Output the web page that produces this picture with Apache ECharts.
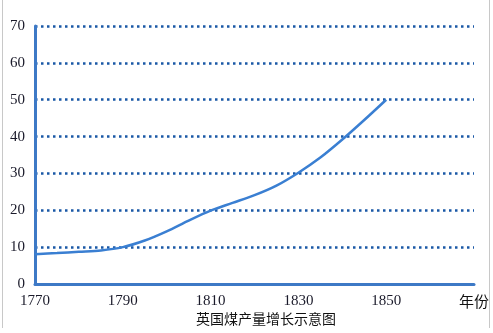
<!DOCTYPE html>
<html><head><meta charset="utf-8">
<script src="https://cdn.jsdelivr.net/npm/echarts@6/dist/echarts.min.js"></script>
<style>html,body{margin:0;padding:0;background:#fff}#c{width:493px;height:333px}</style>
</head><body><div id="c"></div>
<script>
const years = [1770, 1775, 1780, 1785, 1790, 1795, 1800, 1805, 1810, 1815, 1820, 1825, 1830, 1835, 1840, 1845, 1850];
const output = [8.1, 8.4, 8.75, 9.1, 10.0, 11.8, 14.3, 17.2, 19.9, 22.0, 24.1, 26.7, 30.2, 34.3, 39.2, 44.5, 50];
const xTicks = [1770, 1790, 1810, 1830, 1850];
const xName = '年份';
const chartTitle = '英国煤产量增长示意图';

const chart = echarts.init(document.getElementById('c'));
chart.setOption({
  animation: false,
  backgroundColor: '#fff',
  grid: {left: 35, right: 19, top: 26, bottom: 49},
  xAxis: {
    type: 'value', min: 1770, max: 1870, interval: 20,
    axisLine: {show: true, lineStyle: {color: '#3D79C6', width: 3}},
    axisTick: {show: false},
    splitLine: {show: false},
    axisLabel: {
      margin: 10, fontFamily: 'Liberation Serif', fontSize: 15, color: '#1a1a2a',
      formatter: v => xTicks.includes(v) ? String(v) : (v === 1870 ? '{n|' + xName + '}' : ''),
      rich: {n: {fontFamily: 'Noto Sans CJK SC', fontSize: 15, color: '#111'}}
    }
  },
  yAxis: {
    type: 'value', min: 0, max: 70, interval: 10,
    axisLine: {show: true, lineStyle: {color: '#3D79C6', width: 3}},
    axisTick: {show: false},
    splitLine: {show: true, lineStyle: {color: '#1A58A6', width: 2.5, type: [2.5, 3.5]}},
    axisLabel: {margin: 10, fontFamily: 'Liberation Serif', fontSize: 15, color: '#1a1a2a'}
  },
  series: [{
    type: 'line', smooth: 0.3, showSymbol: false,
    lineStyle: {color: '#3A7FD2', width: 2.5},
    data: years.map((y, i) => [y, output[i]])
  }],
  graphic: [
    {type: 'text', left: 196, top: 312, style: {text: chartTitle, font: '14px "Noto Sans CJK SC"', fill: '#111'}},
    {type: 'line', shape: {x1: 2.5, y1: 0, x2: 2.5, y2: 328}, style: {stroke: '#c8c8c8', lineWidth: 1}},
    {type: 'line', shape: {x1: 489.5, y1: 0, x2: 489.5, y2: 328}, style: {stroke: '#c8c8c8', lineWidth: 1}}
  ]
});
</script></body></html>
